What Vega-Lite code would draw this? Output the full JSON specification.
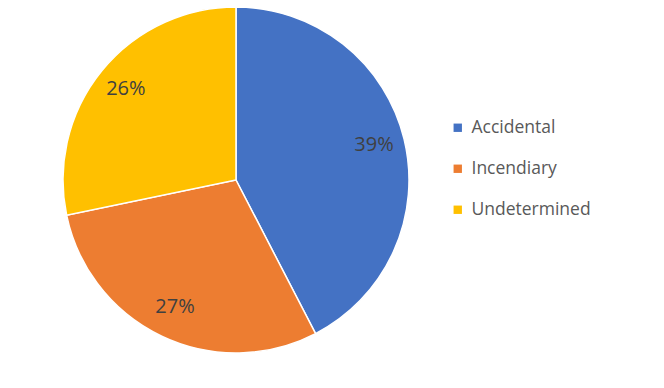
{
  "$schema": "https://vega.github.io/schema/vega-lite/v6.json",
  "width": 472,
  "height": 360,
  "padding": 0,
  "background": "white",
  "data": {"values": [
    {"cause": "Accidental", "value": 39, "label": "39%", "ord": 1},
    {"cause": "Incendiary", "value": 27, "label": "27%", "ord": 2},
    {"cause": "Undetermined", "value": 26, "label": "26%", "ord": 3}
  ]},
  "encoding": {
    "theta": {"field": "value", "type": "quantitative", "stack": true},
    "order": {"field": "ord", "type": "quantitative"}
  },
  "layer": [
    {
      "mark": {"type": "arc", "outerRadius": 173, "stroke": "white", "strokeWidth": 1.5},
      "encoding": {
        "color": {
          "field": "cause", "type": "nominal",
          "scale": {"domain": ["Accidental", "Incendiary", "Undetermined"], "range": ["#4472C4", "#ED7D31", "#FFC000"]},
          "legend": {
            "title": null, "orient": "none", "legendX": 449, "legendY": 119,
            "symbolType": "square", "symbolSize": 70, "symbolStrokeWidth": 0,
            "labelFont": "Open Sans", "labelFontSize": 17.5, "labelColor": "#595959",
            "rowPadding": 22, "labelOffset": 5
          }
        }
      }
    },
    {
      "mark": {"type": "text", "radius": 142, "font": "Open Sans", "fontSize": 20, "fill": "#404040", "dy": -1},
      "encoding": {"text": {"field": "label", "type": "nominal"}}
    }
  ]
}
